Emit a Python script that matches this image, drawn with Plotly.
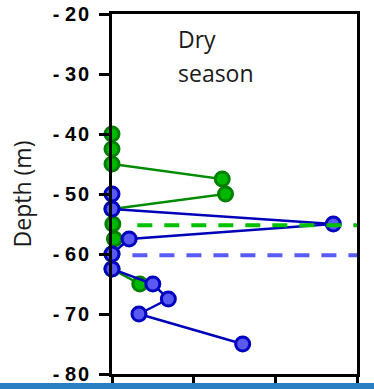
import plotly.graph_objects as go

# Data
green_x = [0, 0, 0, 1.35, 1.39, 0, 0.01, 0.03, 0, 0, 0.34]
green_depth = [-40, -42.5, -45, -47.5, -50, -52.5, -55, -57.5, -60, -62.5, -65]
blue_x = [0, 0, 2.71, 0.21, 0, 0, 0.50, 0.69, 0.33, 1.60]
blue_depth = [-50, -52.5, -55, -57.5, -60, -62.5, -65, -67.5, -70, -75]
green_mld_x = [0.31, 3.04]
green_mld = [-55.2, -55.2]
blue_mld_x = [0.25, 3.0]
blue_mld = [-60.2, -60.2]
y_ticks = [-80, -70, -60, -50, -40, -30, -20]
y_ticktext = ["-\u2009\u200a8\u200a0", "-\u2009\u200a7\u200a0", "-\u2009\u200a6\u200a0",
              "-\u2009\u200a5\u200a0", "-\u2009\u200a4\u200a0", "-\u2009\u200a3\u200a0",
              "-\u2009\u200a2\u200a0"]
x_ticks = [0, 1, 2, 3]

fig = go.Figure()
fig.add_trace(go.Scatter(
    x=green_x, y=green_depth, mode="lines+markers", cliponaxis=False,
    line=dict(color="#008a00", width=2.5),
    marker=dict(size=14, color="#00b800", line=dict(color="#008000", width=3)),
))
fig.add_trace(go.Scatter(
    x=blue_x, y=blue_depth, mode="lines+markers", cliponaxis=False,
    line=dict(color="#0000b8", width=2.5),
    marker=dict(size=14, color="#5a5af2", line=dict(color="#0000c0", width=3)),
))
fig.add_trace(go.Scatter(
    x=blue_mld_x, y=blue_mld, mode="lines", cliponaxis=False,
    line=dict(color="#5a5af5", width=4, dash="15px,12px"),
))
fig.add_trace(go.Scatter(
    x=green_mld_x, y=green_mld, mode="lines", cliponaxis=False,
    line=dict(color="#00c000", width=4, dash="15px,12px"),
))

fig.add_annotation(x=(176 - 112) / 245, y=(374 - 57) / 360, xref="x domain", yref="y domain",
                   text="Dry", showarrow=False, xanchor="left", yanchor="bottom",
                   font=dict(family="Open Sans", size=23, color="#1a1a1a"))
fig.add_annotation(x=(176 - 112) / 245, y=(374 - 91) / 360, xref="x domain", yref="y domain",
                   text="season", showarrow=False, xanchor="left", yanchor="bottom",
                   font=dict(family="Open Sans", size=23, color="#1a1a1a"))

fig.add_shape(type="rect", xref="paper", yref="paper", x0=-1, x1=2,
              y0=-16 / 360, y1=-9 / 360, fillcolor="#2a7fc2", line=dict(width=0), layer="above")

fig.update_xaxes(range=[0, 3], tickvals=x_ticks, showticklabels=False, ticks="outside",
                 ticklen=10, tickwidth=3, tickcolor="black", showline=True, linecolor="black",
                 linewidth=3, mirror=True, showgrid=False, zeroline=False, automargin=False)
fig.update_yaxes(range=[-80, -20], tickvals=y_ticks, ticktext=y_ticktext, ticks="outside",
                 ticklen=10, tickwidth=3, tickcolor="black", showline=True, linecolor="black",
                 linewidth=3, mirror=True, showgrid=False, zeroline=False, automargin=False,
                 tickfont=dict(family="Liberation Sans", size=20, color="black", weight="bold"),
                 ticklabelstandoff=6,
                 title=dict(text="Depth (m)", standoff=15,
                            font=dict(family="Open Sans", size=23, color="#1a1a1a")))

fig.update_layout(
    width=374, height=389, showlegend=False,
    margin=dict(l=112, r=17, t=14, b=15),
    plot_bgcolor="white", paper_bgcolor="white",
)
fig.write_html("out.html")
